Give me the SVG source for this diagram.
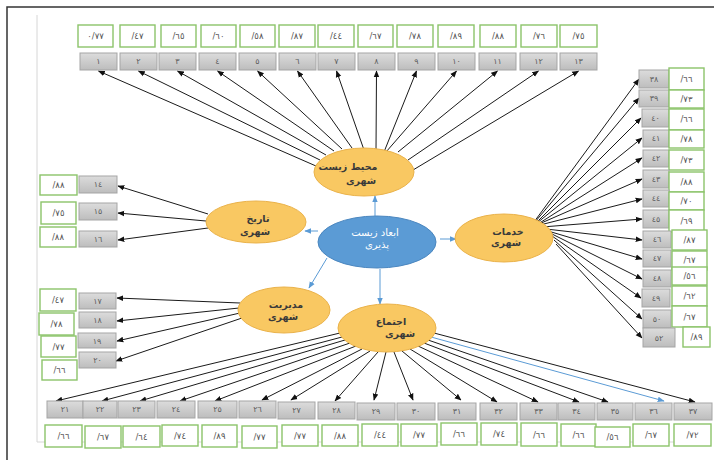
<svg xmlns="http://www.w3.org/2000/svg" width="714" height="460" viewBox="0 0 714 460">
<defs>
<linearGradient id="gg" x1="0" y1="0" x2="0" y2="1">
<stop offset="0" stop-color="#dcdcdc"/>
<stop offset="1" stop-color="#bdbdbd"/>
</linearGradient>
<marker id="ah" viewBox="0 0 10 10" refX="9" refY="5" markerWidth="7" markerHeight="7" markerUnits="userSpaceOnUse" orient="auto">
<path d="M0,1 L10,5 L0,9 z" fill="#111"/>
</marker>
<marker id="ahb" viewBox="0 0 10 10" refX="9" refY="5" markerWidth="7" markerHeight="7" markerUnits="userSpaceOnUse" orient="auto">
<path d="M0,1 L10,5 L0,9 z" fill="#5b9bd5"/>
</marker>
</defs>
<style>
.g{fill:url(#gg);stroke:#a5a5a5;stroke-width:1}
.v{fill:#fff;stroke:#8cc46a;stroke-width:1.4}
.lt{font-family:"DejaVu Sans",sans-serif;font-size:8px;fill:#5a5a5a;text-anchor:middle}
.vt{font-family:"DejaVu Sans",sans-serif;font-size:8.5px;fill:#555;text-anchor:middle}
.c line{stroke:#1a1a1a;stroke-width:1;fill:none;marker-end:url(#ah)}
.c line.b{stroke:#5b9bd5;marker-end:url(#ahb)}
.eo{fill:#f9c862;stroke:#eab24a;stroke-width:1}
.eb{fill:#5b9bd5;stroke:#4a86bf;stroke-width:1}
.et{font-family:"DejaVu Sans",sans-serif;font-size:9.5px;font-weight:bold;fill:#3a3a3a;text-anchor:middle}
.ew{font-family:"DejaVu Sans",sans-serif;font-size:10px;fill:#fff;text-anchor:middle}
</style>
<rect width="714" height="460" fill="#fff"/>
<g id="frame" fill="none">
<path d="M7,460 V7 H714" stroke="#333" stroke-width="1.5"/>
<path d="M37,15 V442 H704" stroke="#d6d6d6" stroke-width="1"/>
</g>
<g id="connectors" class="c">
<line x1="316" y1="166" x2="98.5" y2="71"/>
<line x1="320" y1="160" x2="138.5" y2="71"/>
<line x1="326" y1="155" x2="177.5" y2="71"/>
<line x1="334" y1="151" x2="217.5" y2="71"/>
<line x1="342" y1="149" x2="257.5" y2="71"/>
<line x1="352" y1="148" x2="297.5" y2="71"/>
<line x1="364" y1="150" x2="336.5" y2="71"/>
<line x1="376" y1="150" x2="376.5" y2="71"/>
<line x1="384" y1="152" x2="416.5" y2="71"/>
<line x1="386" y1="152" x2="456.5" y2="71"/>
<line x1="398" y1="152" x2="497.5" y2="71"/>
<line x1="408" y1="160" x2="538.5" y2="71"/>
<line x1="413" y1="170" x2="578.5" y2="71"/>
<line x1="208" y1="214" x2="118" y2="186"/>
<line x1="206" y1="221" x2="118" y2="213"/>
<line x1="208" y1="228" x2="118" y2="240"/>
<line x1="240" y1="303" x2="117" y2="298"/>
<line x1="239" y1="308" x2="117" y2="321"/>
<line x1="240" y1="313" x2="117" y2="341"/>
<line x1="242" y1="318" x2="116" y2="361"/>
<line x1="534" y1="222" x2="639" y2="79"/>
<line x1="535" y1="222" x2="639" y2="98"/>
<line x1="536" y1="223" x2="641" y2="118"/>
<line x1="537" y1="223" x2="642" y2="138"/>
<line x1="538" y1="224" x2="642" y2="158"/>
<line x1="539" y1="224" x2="642" y2="179"/>
<line x1="540" y1="225" x2="642" y2="199"/>
<line x1="542" y1="227" x2="642" y2="219"/>
<line x1="546" y1="229" x2="642" y2="240"/>
<line x1="548" y1="231" x2="642" y2="259"/>
<line x1="550" y1="233" x2="642" y2="279"/>
<line x1="552" y1="236" x2="641" y2="298"/>
<line x1="554" y1="240" x2="642" y2="319"/>
<line x1="556" y1="244" x2="642" y2="338"/>
<line x1="340" y1="333" x2="56" y2="401"/>
<line x1="342" y1="337" x2="102" y2="401"/>
<line x1="345" y1="340" x2="140" y2="401"/>
<line x1="350" y1="343" x2="180" y2="401"/>
<line x1="356" y1="346" x2="215" y2="401"/>
<line x1="362" y1="349" x2="262" y2="400"/>
<line x1="370" y1="351" x2="291" y2="400"/>
<line x1="378" y1="352" x2="335" y2="401"/>
<line x1="386" y1="352" x2="374" y2="400"/>
<line x1="394" y1="352" x2="413" y2="400"/>
<line x1="402" y1="351" x2="461" y2="400"/>
<line x1="410" y1="349" x2="497" y2="402"/>
<line x1="418" y1="346" x2="538" y2="402"/>
<line x1="424" y1="343" x2="579" y2="402"/>
<line x1="428" y1="340" x2="608" y2="402"/>
<line class="b" x1="431" y1="337" x2="664" y2="401"/>
<line x1="434" y1="333" x2="695" y2="402"/>
<line class="b" x1="375" y1="216" x2="375" y2="196"/>
<line class="b" x1="318" y1="231" x2="305" y2="231"/>
<line class="b" x1="440" y1="239" x2="456" y2="239"/>
<line class="b" x1="327" y1="258" x2="309" y2="288"/>
<line class="b" x1="380" y1="269" x2="380" y2="304"/>
</g>
<g id="e-mohit">
<ellipse class="eo" cx="364" cy="172" rx="50" ry="24"/>
<text class="et" x="348" y="170" direction="rtl">محیط زیست</text>
<text class="et" x="361" y="184" direction="rtl">شهری</text>
</g>
<g id="e-tarikh">
<ellipse class="eo" cx="256" cy="222" rx="50" ry="21"/>
<text class="et" x="258" y="222" direction="rtl">تاریخ</text>
<text class="et" x="255" y="235" direction="rtl">شهری</text>
</g>
<g id="e-center">
<ellipse class="eb" cx="377" cy="242" rx="59" ry="26"/>
<text class="ew" x="375" y="236" direction="rtl">ابعاد زیست</text>
<text class="ew" x="377" y="248" direction="rtl">پذیری</text>
</g>
<g id="e-khadamat">
<ellipse class="eo" cx="504" cy="238" rx="49" ry="24"/>
<text class="et" x="508" y="235" direction="rtl">خدمات</text>
<text class="et" x="506" y="246" direction="rtl">شهری</text>
</g>
<g id="e-modiriat">
<ellipse class="eo" cx="284" cy="310" rx="46" ry="23"/>
<text class="et" x="286" y="308" direction="rtl">مدیریت</text>
<text class="et" x="283" y="320" direction="rtl">شهری</text>
</g>
<g id="e-ejtema">
<ellipse class="eo" cx="387" cy="328" rx="49" ry="24"/>
<text class="et" x="391" y="325" direction="rtl">اجتماع</text>
<text class="et" x="400" y="337" direction="rtl">شهری</text>
</g>
<g id="n1"><rect class="v" x="78" y="25" width="35" height="22"/><text class="vt" x="95.5" y="39">٠/٧٧</text><rect class="g" x="80" y="53" width="37" height="17"/><text class="lt" x="98.5" y="64">١</text></g>
<g id="n2"><rect class="v" x="120" y="25" width="35" height="22"/><text class="vt" x="137.5" y="39">/٤٧</text><rect class="g" x="120" y="53" width="37" height="17"/><text class="lt" x="138.5" y="64">٢</text></g>
<g id="n3"><rect class="v" x="161" y="25" width="35" height="22"/><text class="vt" x="178.5" y="39">/٦٥</text><rect class="g" x="159" y="53" width="37" height="17"/><text class="lt" x="177.5" y="64">٣</text></g>
<g id="n4"><rect class="v" x="201" y="25" width="35" height="22"/><text class="vt" x="218.5" y="39">/٦٠</text><rect class="g" x="199" y="53" width="37" height="17"/><text class="lt" x="217.5" y="64">٤</text></g>
<g id="n5"><rect class="v" x="240" y="25" width="35" height="22"/><text class="vt" x="257.5" y="39">/٥٨</text><rect class="g" x="239" y="53" width="37" height="17"/><text class="lt" x="257.5" y="64">٥</text></g>
<g id="n6"><rect class="v" x="279" y="25" width="36" height="22"/><text class="vt" x="297" y="39">/٨٧</text><rect class="g" x="279" y="53" width="37" height="17"/><text class="lt" x="297.5" y="64">٦</text></g>
<g id="n7"><rect class="v" x="318" y="25" width="36" height="22"/><text class="vt" x="336" y="39">/٤٤</text><rect class="g" x="318" y="53" width="37" height="17"/><text class="lt" x="336.5" y="64">٧</text></g>
<g id="n8"><rect class="v" x="358" y="25" width="35" height="22"/><text class="vt" x="375.5" y="39">/٦٧</text><rect class="g" x="358" y="53" width="37" height="17"/><text class="lt" x="376.5" y="64">٨</text></g>
<g id="n9"><rect class="v" x="397" y="25" width="36" height="22"/><text class="vt" x="415" y="39">/٧٨</text><rect class="g" x="398" y="53" width="37" height="17"/><text class="lt" x="416.5" y="64">٩</text></g>
<g id="n10"><rect class="v" x="438" y="25" width="36" height="22"/><text class="vt" x="456" y="39">/٨٩</text><rect class="g" x="438" y="53" width="37" height="17"/><text class="lt" x="456.5" y="64">١٠</text></g>
<g id="n11"><rect class="v" x="480" y="25" width="36" height="22"/><text class="vt" x="498" y="39">/٨٨</text><rect class="g" x="479" y="53" width="37" height="17"/><text class="lt" x="497.5" y="64">١١</text></g>
<g id="n12"><rect class="v" x="521" y="25" width="36" height="22"/><text class="vt" x="539" y="39">/٧٦</text><rect class="g" x="520" y="53" width="37" height="17"/><text class="lt" x="538.5" y="64">١٢</text></g>
<g id="n13"><rect class="v" x="560" y="25" width="37" height="22"/><text class="vt" x="578.5" y="39">/٧٥</text><rect class="g" x="560" y="53" width="37" height="17"/><text class="lt" x="578.5" y="64">١٣</text></g>
<g id="n14"><rect class="v" x="40" y="175" width="37" height="20"/><text class="vt" x="58.5" y="188">/٨٨</text><rect class="g" x="79" y="176" width="38" height="17"/><text class="lt" x="98" y="187">١٤</text></g>
<g id="n15"><rect class="v" x="41" y="202" width="35" height="22"/><text class="vt" x="58.5" y="216">/٧٥</text><rect class="g" x="79" y="203" width="38" height="17"/><text class="lt" x="98" y="214">١٥</text></g>
<g id="n16"><rect class="v" x="40" y="227" width="36" height="20"/><text class="vt" x="58" y="240">/٨٨</text><rect class="g" x="79" y="231" width="38" height="16"/><text class="lt" x="98" y="242">١٦</text></g>
<g id="n17"><rect class="v" x="40" y="289" width="36" height="22"/><text class="vt" x="58" y="303">/٤٧</text><rect class="g" x="79" y="293" width="37" height="16"/><text class="lt" x="97.5" y="304">١٧</text></g>
<g id="n18"><rect class="v" x="39" y="313" width="35" height="22"/><text class="vt" x="56.5" y="327">/٧٨</text><rect class="g" x="79" y="312" width="37" height="16"/><text class="lt" x="97.5" y="323">١٨</text></g>
<g id="n19"><rect class="v" x="41" y="336" width="35" height="21"/><text class="vt" x="58.5" y="350">/٧٧</text><rect class="g" x="78" y="333" width="38" height="15"/><text class="lt" x="97" y="344">١٩</text></g>
<g id="n20"><rect class="v" x="42" y="360" width="35" height="20"/><text class="vt" x="59.5" y="373">/٦٦</text><rect class="g" x="79" y="352" width="37" height="16"/><text class="lt" x="97.5" y="363">٢٠</text></g>
<g id="n38"><rect class="g" x="639" y="70" width="30" height="18"/><text class="lt" x="654" y="82">٣٨</text><rect class="v" x="669" y="68" width="35" height="22"/><text class="vt" x="686.5" y="82">/٦٦</text></g>
<g id="n39"><rect class="g" x="639" y="90" width="30" height="17"/><text class="lt" x="654" y="101">٣٩</text><rect class="v" x="669" y="90" width="35" height="18"/><text class="vt" x="686.5" y="102">/٧٣</text></g>
<g id="n40"><rect class="g" x="642" y="109" width="27" height="18"/><text class="lt" x="655.5" y="121">٤٠</text><rect class="v" x="669" y="109" width="35" height="21"/><text class="vt" x="686.5" y="122">/٦٦</text></g>
<g id="n41"><rect class="g" x="643" y="130" width="26" height="17"/><text class="lt" x="656" y="141">٤١</text><rect class="v" x="669" y="130" width="35" height="18"/><text class="vt" x="686.5" y="142">/٧٨</text></g>
<g id="n42"><rect class="g" x="643" y="150" width="26" height="17"/><text class="lt" x="656" y="161">٤٢</text><rect class="v" x="669" y="150" width="35" height="20"/><text class="vt" x="686.5" y="163">/٧٣</text></g>
<g id="n43"><rect class="g" x="643" y="170" width="26" height="18"/><text class="lt" x="656" y="182">٤٣</text><rect class="v" x="669" y="172" width="35" height="20"/><text class="vt" x="686.5" y="185">/٨٨</text></g>
<g id="n44"><rect class="g" x="643" y="190" width="26" height="17"/><text class="lt" x="656" y="201">٤٤</text><rect class="v" x="669" y="192" width="35" height="18"/><text class="vt" x="686.5" y="204">/٧٠</text></g>
<g id="n45"><rect class="g" x="643" y="210" width="26" height="18"/><text class="lt" x="656" y="222">٤٥</text><rect class="v" x="669" y="210" width="35" height="22"/><text class="vt" x="686.5" y="224">/٦٩</text></g>
<g id="n46"><rect class="g" x="643" y="231" width="28" height="17"/><text class="lt" x="657" y="242">٤٦</text><rect class="v" x="672" y="230" width="35" height="20"/><text class="vt" x="689.5" y="243">/٨٧</text></g>
<g id="n47"><rect class="g" x="643" y="250" width="28" height="17"/><text class="lt" x="657" y="261">٤٧</text><rect class="v" x="672" y="251" width="35" height="19"/><text class="vt" x="689.5" y="263">/٦٧</text></g>
<g id="n48"><rect class="g" x="643" y="270" width="28" height="17"/><text class="lt" x="657" y="281">٤٨</text><rect class="v" x="672" y="267" width="35" height="18"/><text class="vt" x="689.5" y="279">/٥٦</text></g>
<g id="n49"><rect class="g" x="642" y="289" width="28" height="18"/><text class="lt" x="656" y="301">٤٩</text><rect class="v" x="672" y="286" width="35" height="20"/><text class="vt" x="689.5" y="299">/٦٢</text></g>
<g id="n50"><rect class="g" x="643" y="310" width="28" height="18"/><text class="lt" x="657" y="322">٥٠</text><rect class="v" x="672" y="306" width="35" height="21"/><text class="vt" x="689.5" y="320">/٦٧</text></g>
<g id="n52"><rect class="g" x="643" y="328" width="32" height="19"/><text class="lt" x="659" y="341">٥٢</text><rect class="v" x="683" y="327" width="27" height="20"/><text class="vt" x="696.5" y="340">/٨٩</text></g>
<g id="n21"><rect class="g" x="47" y="401" width="36" height="17"/><text class="lt" x="65" y="412">٢١</text><rect class="v" x="45" y="425" width="37" height="22"/><text class="vt" x="63.5" y="439">/٦٦</text></g>
<g id="n22"><rect class="g" x="83" y="401" width="34" height="17"/><text class="lt" x="100" y="412">٢٢</text><rect class="v" x="85" y="426" width="36" height="22"/><text class="vt" x="103" y="440">/٦٧</text></g>
<g id="n23"><rect class="g" x="118" y="401" width="37" height="17"/><text class="lt" x="136.5" y="412">٢٣</text><rect class="v" x="123" y="426" width="37" height="21"/><text class="vt" x="141.5" y="440">/٦٤</text></g>
<g id="n24"><rect class="g" x="157" y="401" width="38" height="17"/><text class="lt" x="176" y="412">٢٤</text><rect class="v" x="162" y="425" width="36" height="21"/><text class="vt" x="180" y="439">/٧٤</text></g>
<g id="n25"><rect class="g" x="198" y="401" width="39" height="17"/><text class="lt" x="217.5" y="412">٢٥</text><rect class="v" x="202" y="425" width="35" height="22"/><text class="vt" x="219.5" y="439">/٨٩</text></g>
<g id="n26"><rect class="g" x="239" y="401" width="37" height="17"/><text class="lt" x="257.5" y="412">٢٦</text><rect class="v" x="242" y="426" width="35" height="22"/><text class="vt" x="259.5" y="440">/٧٧</text></g>
<g id="n27"><rect class="g" x="278" y="402" width="37" height="17"/><text class="lt" x="296.5" y="413">٢٧</text><rect class="v" x="282" y="425" width="36" height="21"/><text class="vt" x="300" y="439">/٧٧</text></g>
<g id="n28"><rect class="g" x="318" y="402" width="37" height="17"/><text class="lt" x="336.5" y="413">٢٨</text><rect class="v" x="322" y="425" width="36" height="21"/><text class="vt" x="340" y="439">/٨٨</text></g>
<g id="n29"><rect class="g" x="357" y="403" width="38" height="17"/><text class="lt" x="376" y="414">٢٩</text><rect class="v" x="362" y="424" width="36" height="22"/><text class="vt" x="380" y="438">/٤٤</text></g>
<g id="n30"><rect class="g" x="397" y="403" width="38" height="17"/><text class="lt" x="416" y="414">٣٠</text><rect class="v" x="401" y="424" width="36" height="22"/><text class="vt" x="419" y="438">/٧٧</text></g>
<g id="n31"><rect class="g" x="438" y="403" width="38" height="17"/><text class="lt" x="457" y="414">٣١</text><rect class="v" x="441" y="423" width="36" height="22"/><text class="vt" x="459" y="437">/٦٦</text></g>
<g id="n32"><rect class="g" x="480" y="403" width="37" height="17"/><text class="lt" x="498.5" y="414">٣٢</text><rect class="v" x="481" y="423" width="36" height="22"/><text class="vt" x="499" y="437">/٧٤</text></g>
<g id="n33"><rect class="g" x="520" y="403" width="37" height="17"/><text class="lt" x="538.5" y="414">٣٣</text><rect class="v" x="521" y="423" width="36" height="23"/><text class="vt" x="539" y="438">/٦٦</text></g>
<g id="n34"><rect class="g" x="558" y="403" width="37" height="17"/><text class="lt" x="576.5" y="414">٣٤</text><rect class="v" x="561" y="424" width="35" height="22"/><text class="vt" x="578.5" y="438">/٦٦</text></g>
<g id="n35"><rect class="g" x="597" y="403" width="36" height="17"/><text class="lt" x="615" y="414">٣٥</text><rect class="v" x="595" y="427" width="35" height="20"/><text class="vt" x="612.5" y="440">/٥٦</text></g>
<g id="n36"><rect class="g" x="635" y="403" width="37" height="17"/><text class="lt" x="653.5" y="414">٣٦</text><rect class="v" x="633" y="424" width="36" height="22"/><text class="vt" x="651" y="438">/٦٧</text></g>
<g id="n37"><rect class="g" x="674" y="403" width="38" height="17"/><text class="lt" x="693" y="414">٣٧</text><rect class="v" x="674" y="424" width="37" height="22"/><text class="vt" x="692.5" y="438">/٧٢</text></g>
</svg>
